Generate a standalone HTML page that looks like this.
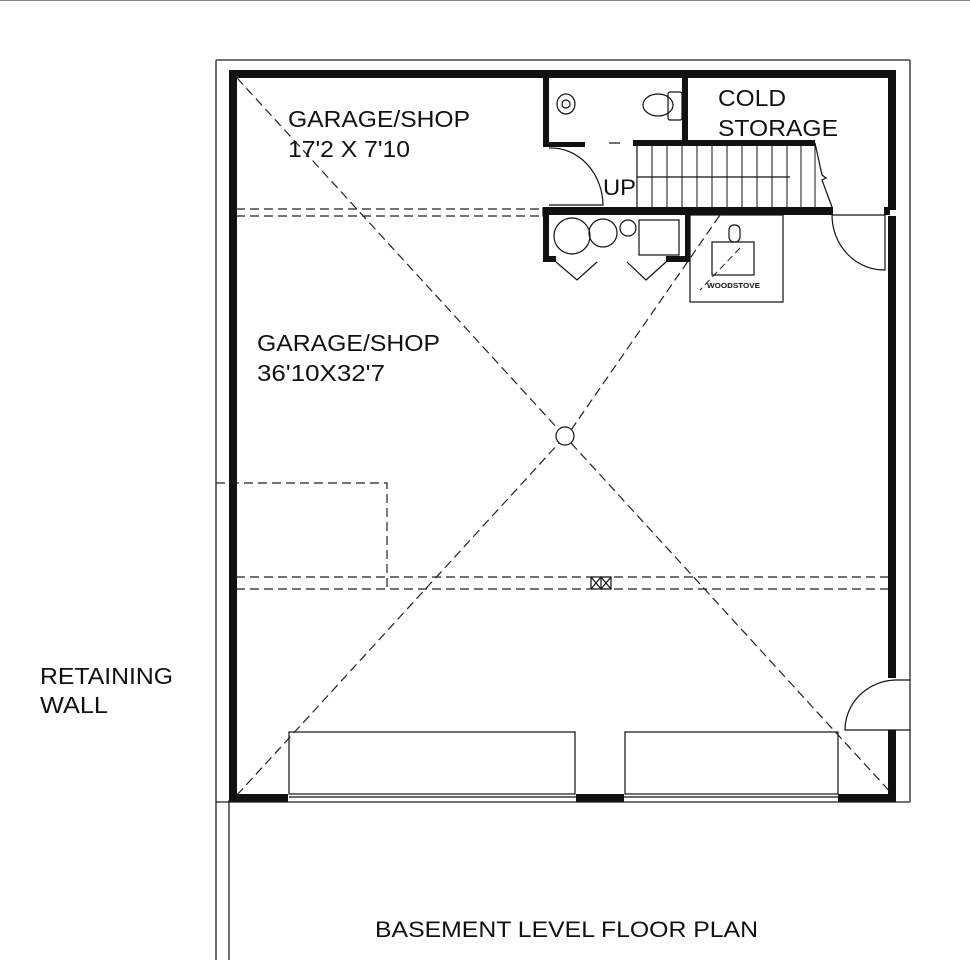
<!DOCTYPE html>
<html><head><style>
html,body{margin:0;padding:0;background:#fff;}
svg{display:block;}
text{font-family:"Liberation Sans",Arial,sans-serif;fill:#111;}
</style></head><body>
<svg width="970" height="964" viewBox="0 0 970 964" xmlns="http://www.w3.org/2000/svg">
<rect width="970" height="964" fill="#fff"/>
<line x1="0" y1="0.5" x2="970" y2="0.5" stroke="#888" stroke-width="1"/>
<g fill="none" stroke="#222" stroke-width="1.3">
<line x1="216" y1="60" x2="910" y2="60"/>
<line x1="216" y1="60" x2="216" y2="960"/>
<line x1="229" y1="800" x2="229" y2="960"/>
<line x1="910" y1="60" x2="910" y2="802"/>
<line x1="216" y1="802" x2="910" y2="802"/>
</g>
<g fill="#111">
<rect x="229" y="70" width="667" height="8"/>
<rect x="229" y="70" width="8" height="732"/>
<rect x="888" y="70" width="8" height="140"/>
<rect x="888" y="216" width="8" height="462"/>
<rect x="888" y="730" width="8" height="72"/>
<rect x="229" y="794" width="59" height="8"/>
<rect x="576" y="794" width="48" height="8"/>
<rect x="838" y="794" width="58" height="8"/>
<rect x="543" y="78" width="6" height="68"/>
<rect x="543" y="142" width="42" height="5"/>
<rect x="682" y="78" width="6" height="62"/>
<rect x="633" y="140" width="182" height="6"/>
<rect x="543" y="207" width="290" height="8"/>
<rect x="884" y="207" width="6" height="8"/>
<rect x="543" y="215" width="6" height="46"/>
<rect x="543" y="256" width="13" height="6"/>
<rect x="666" y="256" width="22" height="6"/>
<rect x="685" y="215" width="5" height="47"/>
</g>
<g fill="none" stroke="#111" stroke-width="1.2">
<rect x="289" y="732" width="286" height="62"/>
<rect x="625" y="732" width="213" height="62"/>
<line x1="289" y1="797" x2="838" y2="797"/>
<path d="M910 680 L895 680 A52 50 0 0 0 845 730 L910 730"/>
<path d="M549 148 A52 58 0 0 1 603 205 L549 205"/>
<line x1="609" y1="143" x2="620" y2="143"/>
<line x1="637" y1="146" x2="637" y2="207"/>
<line x1="637" y1="177" x2="790" y2="177"/>
<path d="M815 143 L822 175 L826 178 L822 180 L832 207"/>
<path d="M832 215 A52 55 0 0 0 885 270 L885 215"/>
<line x1="832" y1="215" x2="885" y2="215"/>
<ellipse cx="566" cy="104" rx="9" ry="10"/>
<circle cx="566" cy="104" r="4"/>
<ellipse cx="658" cy="105" rx="15" ry="11"/>
<rect x="668" y="92" width="14" height="28" rx="2"/>
<circle cx="572" cy="236" r="18"/>
<circle cx="603" cy="233" r="14"/>
<circle cx="628" cy="228" r="8"/>
<rect x="639" y="220" width="40" height="35"/>
<path d="M556 262 L577 280 L597 262"/>
<path d="M627 262 L646 280 L666 262"/>
<rect x="690" y="215" width="93" height="87"/>
<rect x="712" y="242" width="42" height="33"/>
<rect x="729" y="225" width="11" height="17" rx="5"/>
<circle cx="565" cy="436" r="9"/>
<rect x="231" y="208" width="5" height="8"/>
<rect x="543" y="208" width="5" height="8"/>
<rect x="591" y="577" width="20" height="12"/>
<path d="M591 577 L601 589 M601 577 L591 589 M601 577 L611 589 M611 577 L601 589"/>
<line x1="601" y1="577" x2="601" y2="589"/>
</g>
<g stroke="#111" stroke-width="1">
<line x1="652" y1="146" x2="652" y2="207"/><line x1="667" y1="146" x2="667" y2="207"/>
<line x1="682" y1="146" x2="682" y2="207"/><line x1="697" y1="146" x2="697" y2="207"/>
<line x1="712" y1="146" x2="712" y2="207"/><line x1="727" y1="146" x2="727" y2="207"/>
<line x1="742" y1="146" x2="742" y2="207"/><line x1="757" y1="146" x2="757" y2="207"/>
<line x1="772" y1="146" x2="772" y2="207"/><line x1="787" y1="146" x2="787" y2="207"/>
<line x1="801" y1="146" x2="801" y2="207"/><line x1="815" y1="146" x2="815" y2="207"/>
</g>
<g fill="none" stroke="#222" stroke-width="1.2" stroke-dasharray="9,5">
<line x1="236" y1="209" x2="543" y2="209"/>
<line x1="236" y1="216" x2="543" y2="216"/>
<line x1="236" y1="577" x2="888" y2="577"/>
<line x1="236" y1="589" x2="888" y2="589"/>
<path d="M216 483 L387 483 L387 589"/>
<line x1="237" y1="78" x2="559" y2="430"/>
<line x1="571" y1="443" x2="893" y2="795"/>
<line x1="237" y1="795" x2="559" y2="443"/>
<line x1="571" y1="430" x2="720" y2="215"/>
</g>
<g fill="none" stroke="#222" stroke-width="1" stroke-dasharray="7,4">
<line x1="740" y1="248" x2="700" y2="290"/>
</g>
<text x="288" y="127" font-size="23" textLength="182" lengthAdjust="spacingAndGlyphs">GARAGE/SHOP</text>
<text x="288" y="157" font-size="23" textLength="122" lengthAdjust="spacingAndGlyphs">17'2 X 7'10</text>
<text x="718" y="106" font-size="23" textLength="68" lengthAdjust="spacingAndGlyphs">COLD</text>
<text x="718" y="136" font-size="23" textLength="120" lengthAdjust="spacingAndGlyphs">STORAGE</text>
<text x="603" y="195" font-size="22" textLength="33" lengthAdjust="spacingAndGlyphs">UP</text>
<text x="707" y="288" font-size="7" font-weight="bold" textLength="53" lengthAdjust="spacingAndGlyphs">WOODSTOVE</text>
<text x="257" y="351" font-size="23" textLength="183" lengthAdjust="spacingAndGlyphs">GARAGE/SHOP</text>
<text x="257" y="381" font-size="23" textLength="128" lengthAdjust="spacingAndGlyphs">36'10X32'7</text>
<text x="40" y="684" font-size="23" textLength="133" lengthAdjust="spacingAndGlyphs">RETAINING</text>
<text x="40" y="713" font-size="23" textLength="68" lengthAdjust="spacingAndGlyphs">WALL</text>
<text x="375" y="937" font-size="22" textLength="383" lengthAdjust="spacingAndGlyphs">BASEMENT LEVEL FLOOR PLAN</text>
</svg>
</body></html>
